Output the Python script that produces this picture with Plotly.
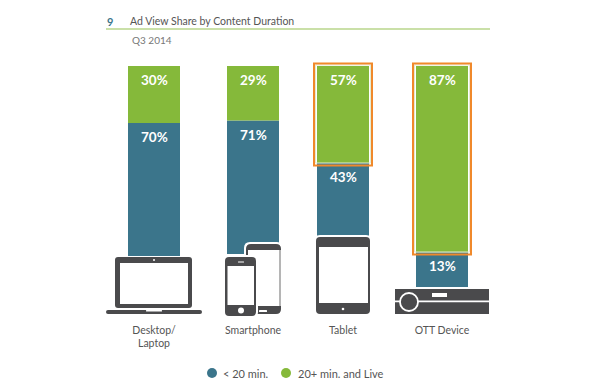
import plotly.graph_objects as go

# ---- data ----
categories = ["Desktop/<br>Laptop", "Smartphone", "Tablet", "OTT Device"]
short_share = [70, 71, 43, 13]
long_share = [30, 29, 57, 87]
series_names = ["< 20 min.", "20+ min. and Live"]
title_text = "Ad View Share by Content Duration"
subtitle_text = "Q3 2014"
chart_number = "9"
highlighted = [2, 3]

# ---- layout constants (pixels of the 590x390 frame) ----
W, H = 590, 390
BAR_CENTERS = [154, 253, 343, 442]
BAR_WIDTH = 52
BAR_TOP = 66
BAR_BOTTOMS = [256, 254, 236, 287]
AXIS_FLOORS = [0, 0, 0, -3.3]
LEGEND_KEYS_X = [212, 286]
LEGEND_TEXT_X = [222, 296.5]
LEGEND_Y = 373
TEAL, GREEN, DARK, ORANGE = "#3B758B", "#85B93A", "#4A4A4C", "#F0892B"
FONT = "Lato"


def X(p):
    return p / W


def Y(p):
    return 1 - p / H


def rrect(x0, y0, x1, y1, r):
    a, b, c, d = X(x0), X(x1), Y(y0), Y(y1)
    rx, ry = r / W, r / H
    return (f"M{a + rx},{c} L{b - rx},{c} Q{b},{c} {b},{c - ry} L{b},{d + ry} Q{b},{d} {b - rx},{d} "
            f"L{a + rx},{d} Q{a},{d} {a},{d + ry} L{a},{c - ry} Q{a},{c} {a + rx},{c} Z")


def box(x0, y0, x1, y1, r=0, fill=DARK, line=None, lw=0):
    return dict(type="path", xref="paper", yref="paper", path=rrect(x0, y0, x1, y1, r),
                fillcolor=fill, line=dict(width=lw, color=line or fill), layer="above")


def circle(cx, cy, r, fill, line=None, lw=0):
    return dict(type="circle", xref="paper", yref="paper", x0=X(cx - r), x1=X(cx + r),
                y0=Y(cy + r), y1=Y(cy - r), fillcolor=fill,
                line=dict(width=lw, color=line or fill), layer="above")


fig = go.Figure()
annotations = []

for i, cat in enumerate(categories):
    y_ref = "y" if i == 0 else f"y{i + 1}"
    x_ref = "x" if i == 0 else f"x{i + 1}"
    floor = AXIS_FLOORS[i]
    common = dict(x=[BAR_CENTERS[i]], width=BAR_WIDTH, xaxis=x_ref, yaxis=y_ref, showlegend=False,
                  marker_line_width=0, hoverinfo="skip")
    fig.add_trace(go.Bar(y=[short_share[i] - floor], base=[floor], marker_color=TEAL,
                         name=f"{series_names[0]} {cat}", **common))
    fig.add_trace(go.Bar(y=[long_share[i]], base=[short_share[i]], marker_color=GREEN,
                         name=f"{series_names[1]} {cat}", **common))
    for top_value, share in ((100, long_share[i]), (short_share[i], short_share[i])):
        annotations.append(dict(x=BAR_CENTERS[i], y=top_value, xref=x_ref, yref=y_ref,
                                text=f"{share}%", showarrow=False, yanchor="middle", yshift=-14,
                                font=dict(family=FONT, size=13.5, color="white", weight=700)))

axes = {}
for i in range(len(categories)):
    ykey = "yaxis" if i == 0 else f"yaxis{i + 1}"
    xkey = "xaxis" if i == 0 else f"xaxis{i + 1}"
    axes[ykey] = dict(range=[AXIS_FLOORS[i], 100], domain=[Y(BAR_BOTTOMS[i]), Y(BAR_TOP)], visible=False,
                      fixedrange=True, anchor="x" if i == 0 else f"x{i + 1}")
    if i:
        axes[xkey] = dict(range=[0, W], domain=[0, 1], visible=False, fixedrange=True, anchor=f"y{i + 1}")

shapes = [dict(type="line", xref="paper", yref="paper", x0=X(106), x1=X(490), y0=Y(29), y1=Y(29),
               line=dict(color="#B9D68B", width=1.5))]

# highlight frames
for i in highlighted:
    split = 163 if i == 2 else 252
    c = BAR_CENTERS[i]
    shapes.append(dict(type="rect", xref="paper", yref="paper", x0=X(c - 27.5), x1=X(c + 27.5), y0=Y(split), y1=Y(65),
                       line=dict(color="#E4EBD2", width=1), fillcolor="rgba(0,0,0,0)", layer="above"))
    shapes.append(dict(type="rect", xref="paper", yref="paper", x0=X(c - 29), x1=X(c + 29), y0=Y(split + 2.5), y1=Y(63.5),
                       line=dict(color=ORANGE, width=2), fillcolor="rgba(0,0,0,0)", layer="above"))

# laptop
shapes += [
    box(115, 257, 192, 308, 3),
    box(120, 263, 188, 304, 0, "white"),
    circle(154, 260, 1, "white"),
    box(106, 310, 202, 314, 2),
    box(146, 310, 162, 311.5, 0.5, "white"),
]
# phones
shapes += [
    box(244, 242, 283, 316, 6, "white"),
    box(246, 244, 281, 314, 5),
    box(248, 250, 279, 306, 0, "white"),
    box(279, 250, 281, 306, 0, "#B5B5B5"),
    box(259, 310, 267, 312, 0.5, "white"),
    box(223, 255, 258, 318, 6, "white"),
    box(225, 257, 256, 316, 4),
    box(227.5, 266, 254, 305, 0, "white"),
    box(238, 261.5, 244, 262.5, 0.3, "white"),
    circle(241, 310.5, 3, "white"),
]
# tablet
shapes += [
    box(314, 235, 372, 316, 6, "white"),
    box(316, 237, 370, 314, 4),
    box(319, 247, 368, 303, 0, "white"),
    circle(343, 309, 1.3, "white"),
]
# OTT box
shapes += [
    box(395, 289, 489, 314),
    box(395, 300.5, 489, 302.2, 0, "white"),
    circle(409, 302, 9, DARK, "white", 1.8),
    box(432, 293, 447, 297, 0, "white"),
]

# key: round swatch and text placed as in the reference
for name, col, kx, tx in zip(series_names, (TEAL, GREEN), LEGEND_KEYS_X, LEGEND_TEXT_X):
    shapes.append(circle(kx, LEGEND_Y, 5, col))
    annotations.append(dict(x=X(tx), y=Y(LEGEND_Y), xref="paper", yref="paper", text=name.replace("<", "&lt;"),
                            showarrow=False, xanchor="left", yanchor="middle", xshift=-1,
                            font=dict(family=FONT, size=11, color="#555555")))

annotations += [
    dict(x=X(105), y=Y(21), xref="paper", yref="paper", text=chart_number, showarrow=False,
         xanchor="left", yanchor="middle", font=dict(family=FONT, size=11, color=TEAL, weight=700)),
    dict(x=X(130), y=Y(40.5), xref="paper", yref="paper", text=subtitle_text, showarrow=False,
         xanchor="left", yanchor="middle", font=dict(family=FONT, size=10, color="#777777")),
]

fig.update_layout(
    width=W, height=H, margin=dict(l=0, r=0, t=0, b=0), autosize=False, showlegend=False,
    paper_bgcolor="white", plot_bgcolor="rgba(0,0,0,0)", barmode="overlay",
    font=dict(family=FONT, color="#555555"),
    title=dict(text=title_text, x=X(130), xref="paper", xanchor="left", y=Y(21), yref="paper", yanchor="middle",
               font=dict(family=FONT, size=10.5, color="#555555"), pad=dict(l=0, r=0, t=0, b=0)),
    xaxis=dict(range=[0, W], domain=[0, 1], tickmode="array", tickvals=BAR_CENTERS, ticktext=categories,
               anchor="free", position=Y(322), showgrid=False, zeroline=False, showline=False, ticks="",
               tickfont=dict(family=FONT, size=10.5, color="#555555"), fixedrange=True),
    shapes=shapes, annotations=annotations,
    **axes,
)

fig.write_html("out.html", post_script="document.body.style.margin='0';", config=dict(displayModeBar=False))
